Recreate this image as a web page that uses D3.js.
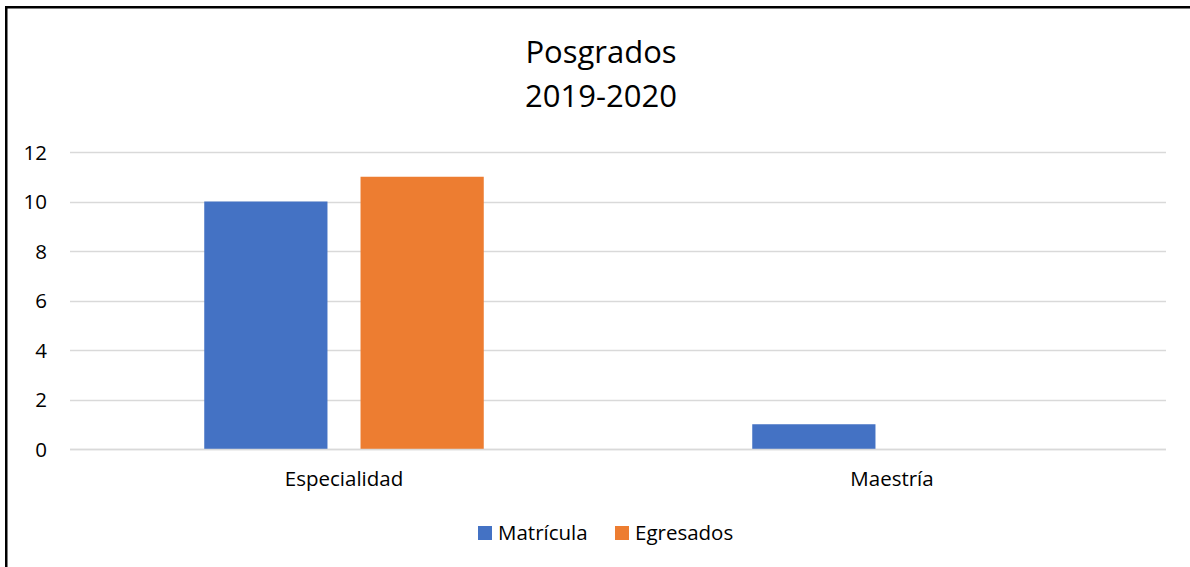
<!DOCTYPE html>
<html>
<head>
<meta charset="utf-8">
<script src="https://cdn.jsdelivr.net/npm/d3@7"></script>
<style>
  html, body { margin: 0; padding: 0; background: #fff; }
  svg { display: block; font-family: "Open Sans", "Noto Sans", sans-serif; }
</style>
</head>
<body>
<svg id="chart" width="1190" height="567"></svg>
<script>
// Chart data
const categories = ["Especialidad", "Maestría"];
const seriesNames = ["Matrícula", "Egresados"];
const matricula = [10, 1];
const egresados = [11, 0];
const yTicks = [0, 2, 4, 6, 8, 10, 12];
const titleLines = ["Posgrados", "2019-2020"];

const colors = ["#4472C4", "#ED7D31"];
const seriesValues = [matricula, egresados];
const labelSize = 20.5;

const svg = d3.select("#chart");
const plot = { left: 70, right: 1166, top: 152, bottom: 449 };

// Outer frame
svg.append("rect")
  .attr("x", 6.25).attr("y", 7.25)
  .attr("width", 1250).attr("height", 700)
  .attr("fill", "none").attr("stroke", "#000").attr("stroke-width", 2.5);

// Title
svg.append("g").selectAll("text")
  .data(titleLines).join("text")
  .attr("x", 601)
  .attr("y", (d, i) => 63 + i * 44)
  .attr("text-anchor", "middle")
  .attr("font-size", 31)
  .attr("fill", "#000")
  .text(d => d);

// Scales
const y = d3.scaleLinear().domain([0, 12]).range([plot.bottom, plot.top]);
const x0 = d3.scaleBand().domain(categories).range([plot.left, plot.right]).padding(0);
const x1 = d3.scaleBand().domain(seriesNames).range([0, x0.bandwidth()])
  .paddingInner(0.2115).paddingOuter(0.859);

// Gridlines
svg.append("g").selectAll("line")
  .data(yTicks).join("line")
  .attr("x1", plot.left).attr("x2", plot.right)
  .attr("y1", d => Math.round(y(d)) + 0.5).attr("y2", d => Math.round(y(d)) + 0.5)
  .attr("stroke", "#d9d9d9").attr("stroke-width", 1.3);

// Y axis labels
const yAxis = d3.axisLeft(y).tickValues(yTicks).tickSize(0).tickPadding(0);
const yg = svg.append("g").attr("transform", `translate(47,0)`).call(yAxis);
yg.select(".domain").remove();
yg.selectAll("text").attr("font-size", labelSize).attr("fill", "#000")
  .attr("font-family", "'Open Sans', sans-serif").attr("dy", "0.35em");

// Bars
const rows = categories.map((c, i) => ({
  cat: c,
  vals: seriesNames.map((s, j) => ({ s, v: seriesValues[j][i], color: colors[j] }))
}));
const groups = svg.append("g").selectAll("g")
  .data(rows).join("g")
  .attr("transform", d => `translate(${x0(d.cat)},0)`);
groups.selectAll("rect")
  .data(d => d.vals.filter(v => v.v > 0)).join("rect")
  .attr("x", d => x1(d.s))
  .attr("width", x1.bandwidth())
  .attr("y", d => y(d.v))
  .attr("height", d => y(0) - y(d.v))
  .attr("fill", d => d.color);

// Zero baseline drawn above bars
svg.append("line")
  .attr("x1", plot.left).attr("x2", plot.right)
  .attr("y1", Math.round(y(0)) + 0.5).attr("y2", Math.round(y(0)) + 0.5)
  .attr("stroke", "#d9d9d9").attr("stroke-width", 1.3);

// Category axis labels
const xAxis = d3.axisBottom(x0).tickSize(0).tickPadding(0);
const xg = svg.append("g").attr("transform", `translate(0,${plot.bottom})`).call(xAxis);
xg.select(".domain").remove();
xg.selectAll("text").attr("font-size", labelSize).attr("fill", "#000")
  .attr("font-family", "'Open Sans', sans-serif")
  .attr("dy", null).attr("y", 37);

// Legend
const legendItems = [
  { name: seriesNames[0], color: colors[0], x: 478 },
  { name: seriesNames[1], color: colors[1], x: 615 }
];
const lg = svg.append("g").selectAll("g").data(legendItems).join("g")
  .attr("transform", d => `translate(${d.x},526)`);
lg.append("rect").attr("width", 14).attr("height", 14).attr("fill", d => d.color);
lg.append("text").attr("x", 20).attr("y", 13.5)
  .attr("font-size", labelSize).attr("fill", "#000").text(d => d.name);
</script>
</body>
</html>
